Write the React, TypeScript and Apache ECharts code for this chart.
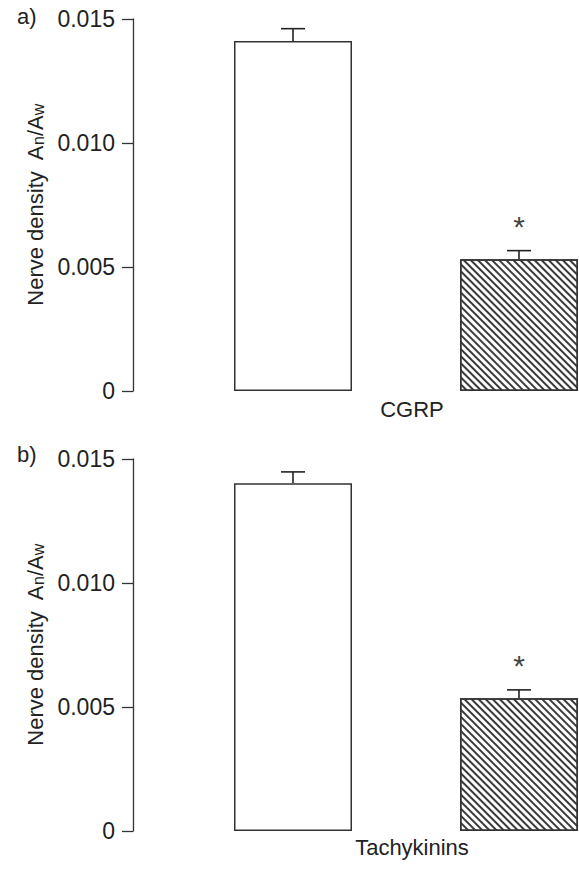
import React, { useEffect, useRef } from "react";
import * as echarts from "echarts";

const groups = ["Group 1", "Group 2"];
const panelLabels = ["a)", "b)"];
const panelNames = ["CGRP", "Tachykinins"];
const cgrpMean = [0.01411, 0.00531];
const cgrpUpper = [0.01461, 0.00566];
const tachyMean = [0.01402, 0.00535];
const tachyUpper = [0.01448, 0.00569];
const significance = ["", "*"];
const yMin = 0;
const yMax = 0.015;
const yStep = 0.005;

const FONT = "'Liberation Sans', Arial, sans-serif";
const TEXT = "#222";
const LINE = "#333";

const panels = [
  { label: panelLabels[0], name: panelNames[0], mean: cgrpMean, upper: cgrpUpper },
  { label: panelLabels[1], name: panelNames[1], mean: tachyMean, upper: tachyUpper },
];

const gridTops = [19, 459];
const labelTops = [5, 443];
const nameGaps = [7, 5];

export default function App() {
  const ref = useRef<HTMLDivElement>(null);
  useEffect(() => {
    if (!ref.current) return;
    const chart = echarts.init(ref.current, null, { renderer: "svg" });

    const hatch = {
      symbol: "rect",
      symbolSize: 1,
      dashArrayX: [1, 0],
      dashArrayY: [2, 3],
      rotation: Math.PI / 4,
      color: "#3a3a3a",
      backgroundColor: "#fff",
    };

    const grid = gridTops.map((t) => ({
      left: 180,
      top: t,
      width: 452,
      height: 372,
      outerBoundsMode: "none",
      containLabel: false,
    }));

    const xAxis = panels.map((p, i) => ({
      type: "category",
      gridIndex: i,
      data: groups,
      axisLine: { show: false },
      axisTick: { show: false },
      axisLabel: { show: false },
      name: p.name,
      nameLocation: "middle",
      nameGap: nameGaps[i],
      nameTextStyle: { fontSize: 22, fontFamily: FONT, color: TEXT, padding: [0, 0, 0, 12] },
    }));

    const yAxis = panels.map((p, i) => ({
      type: "value",
      gridIndex: i,
      min: yMin,
      max: yMax,
      interval: yStep,
      offset: 47,
      splitLine: { show: false },
      axisLine: { show: true, lineStyle: { color: LINE, width: 1.3 } },
      axisTick: { show: true, inside: false, length: 11, lineStyle: { color: LINE, width: 1.3 } },
      axisLabel: {
        margin: 18,
        fontSize: 23,
        fontFamily: FONT,
        color: TEXT,
        formatter: (v: number) => (v === 0 ? "0" : v.toFixed(3)),
      },
      name: "{m|Nerve density  A}{s|n}{m|/A}{s|w}",
      nameLocation: "middle",
      nameGap: 87,
      nameTextStyle: {
        fontFamily: FONT,
        color: TEXT,
        fontSize: 22,
        rich: {
          m: { fontSize: 22, fontFamily: FONT, color: TEXT, verticalAlign: "bottom" },
          s: { fontSize: 16, fontFamily: FONT, color: TEXT, verticalAlign: "bottom" },
        },
      },
    }));

    const series: any[] = [];
    panels.forEach((p, i) => {
      series.push({
        type: "bar",
        xAxisIndex: i,
        yAxisIndex: i,
        barWidth: 118,
        itemStyle: { color: "#fff", borderColor: LINE, borderWidth: 1.5 },
        data: p.mean.map((v, k) =>
          k === 1
            ? { value: v, itemStyle: { color: "#fff", borderColor: LINE, borderWidth: 1.5, decal: hatch } }
            : { value: v }
        ),
      });
      series.push({
        type: "custom",
        xAxisIndex: i,
        yAxisIndex: i,
        encode: { x: 0, y: [1, 2] },
        data: p.mean.map((v, k) => [k, v, p.upper[k]]),
        renderItem: (params: any, api: any) => {
          const idx = api.value(0);
          const base = api.coord([idx, api.value(1)]);
          const top = api.coord([idx, api.value(2)]);
          const half = 12;
          const style = { stroke: "#222", lineWidth: 1.6 };
          const children: any[] = [
            { type: "line", shape: { x1: base[0], y1: base[1], x2: top[0], y2: top[1] }, style },
            { type: "line", shape: { x1: top[0] - half, y1: top[1], x2: top[0] + half, y2: top[1] }, style },
          ];
          if (significance[params.dataIndex]) {
            children.push({
              type: "text",
              x: top[0],
              y: top[1] - 24,
              style: {
                text: significance[params.dataIndex],
                fill: "#444",
                font: `30px ${FONT}`,
                align: "center",
                verticalAlign: "middle",
              },
            });
          }
          return { type: "group", children };
        },
      });
    });

    chart.setOption({
      animation: false,
      backgroundColor: "#fff",
      grid,
      xAxis,
      yAxis,
      series,
      graphic: panels.map((p, i) => ({
        type: "text",
        left: 17,
        top: labelTops[i],
        style: { text: p.label, fill: TEXT, font: `22px ${FONT}` },
      })),
    });
    return () => chart.dispose();
  }, []);
  return (
    <div
      ref={ref}
      style={{ position: "absolute", left: 0, top: 0, width: 579, height: 872 }}
    />
  );
}
